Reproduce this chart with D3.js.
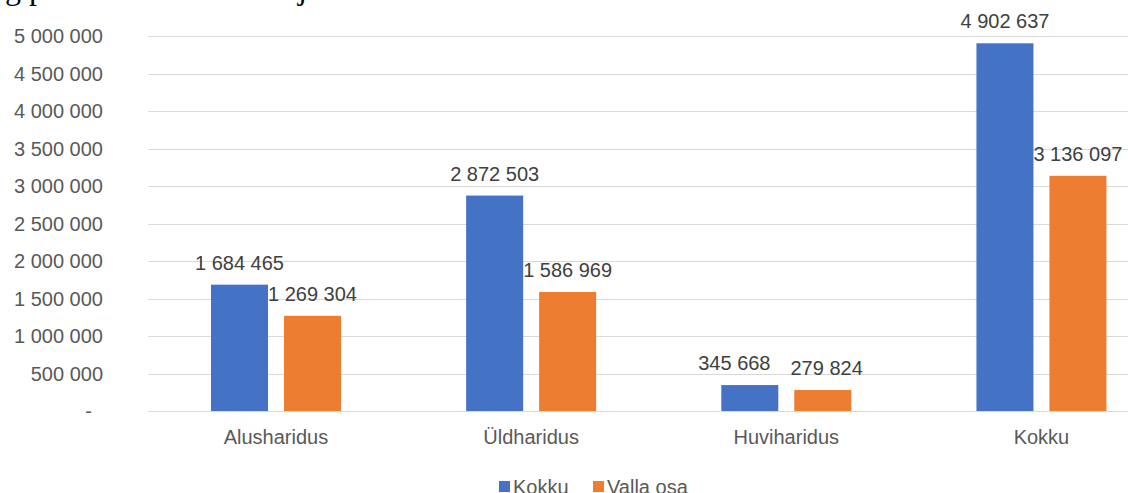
<!DOCTYPE html>
<html>
<head>
<meta charset="utf-8">
<script src="https://cdn.jsdelivr.net/npm/d3@7"></script>
<style>
  body { margin: 0; background: #fff; }
  svg { display: block; }
</style>
</head>
<body>
<div id="chart"></div>
<script>
// categories and series
const categories = ["Alusharidus", "Üldharidus", "Huviharidus", "Kokku"];
const seriesNames = ["Kokku", "Valla osa"];
const kokkuValues = [1684465, 2872503, 345668, 4902637];
const vallaOsaValues = [1269304, 1586969, 279824, 3136097];
const yTicks = [0, 500000, 1000000, 1500000, 2000000, 2500000, 3000000, 3500000, 4000000, 4500000, 5000000];
const colors = ["#4472C4", "#ED7D31"];

const width = 1128, height = 493;
const plot = { left: 148.4, right: 1169, top: 36, bottom: 411 };
const font = "'Liberation Sans', Arial, sans-serif";
const textColor = "#595959";

const svg = d3.select("#chart").append("svg")
  .attr("width", width)
  .attr("height", height);

// cut-off title fragment at the very top (only descenders visible in the original)
svg.append("text")
  .attr("x", 5).attr("y", -1)
  .attr("font-family", "'Liberation Serif', 'Times New Roman', serif")
  .attr("font-size", 32)
  .attr("fill", "#000")
  .text("g p");
svg.append("text")
  .attr("x", 298).attr("y", -1)
  .attr("font-family", "'Liberation Serif', 'Times New Roman', serif")
  .attr("font-size", 32)
  .attr("fill", "#000")
  .text("j");

const locale = d3.formatLocale({ thousands: " ", grouping: [3], decimal: ",", currency: ["", ""] });
const fmt = locale.format(",d");

const y = d3.scaleLinear().domain([0, 5000000]).range([plot.bottom, plot.top]);
const x0 = d3.scaleBand().domain(categories).range([plot.left, plot.right]);
const x1 = d3.scaleBand().domain(seriesNames)
  .range([62.6, 192.6])
  .paddingInner(0.219);

// gridlines
svg.append("g").selectAll("line")
  .data(yTicks)
  .enter().append("line")
  .attr("x1", plot.left).attr("x2", plot.right)
  .attr("y1", d => Math.round(y(d)) + 0.5)
  .attr("y2", d => Math.round(y(d)) + 0.5)
  .attr("stroke", "#d9d9d9")
  .attr("stroke-width", 1);

// y labels
svg.append("g").selectAll("text")
  .data(yTicks)
  .enter().append("text")
  .attr("x", d => d === 0 ? 92 : 103)
  .attr("y", d => y(d))
  .attr("dy", "0.35em")
  .attr("text-anchor", "end")
  .attr("font-family", font)
  .attr("font-size", 20)
  .attr("fill", textColor)
  .text(d => d === 0 ? "-" : fmt(d));

// bars
const rows = categories.map((c, i) => ({
  category: c,
  values: [
    { series: seriesNames[0], value: kokkuValues[i] },
    { series: seriesNames[1], value: vallaOsaValues[i] }
  ]
}));

const groups = svg.append("g").selectAll("g")
  .data(rows)
  .enter().append("g")
  .attr("transform", d => `translate(${x0(d.category)},0)`);

groups.selectAll("rect")
  .data(d => d.values)
  .enter().append("rect")
  .attr("x", d => x1(d.series))
  .attr("y", d => y(d.value))
  .attr("width", x1.bandwidth())
  .attr("height", d => y(0) - y(d.value))
  .attr("fill", (d, i) => colors[i]);

// data labels
groups.each(function () {
  const g = d3.select(this);
  const labels = g.selectAll("text.value-label")
    .data(d => d.values)
    .enter().append("text")
    .attr("class", "value-label")
    .attr("x", d => x1(d.series) + x1.bandwidth() / 2)
    .attr("y", d => y(d.value) - 15)
    .attr("text-anchor", "middle")
    .attr("font-family", font)
    .attr("font-size", 20)
    .attr("fill", "#404040")
    .text(d => fmt(d.value));

  // nudge the pair apart when they sit on the same line and collide
  const nodes = labels.nodes();
  const a = nodes[0].getBBox(), b = nodes[1].getBBox();
  const sameLine = Math.abs(a.y - b.y) < a.height;
  const gap = b.x - (a.x + a.width);
  if (sameLine && gap < 20) {
    const shift = 20 - gap;
    d3.select(nodes[0]).attr("x", +nodes[0].getAttribute("x") - shift * 0.8);
    d3.select(nodes[1]).attr("x", +nodes[1].getAttribute("x") + shift * 0.2);
  }
});

// category labels
svg.append("g").selectAll("text")
  .data(categories)
  .enter().append("text")
  .attr("x", d => x0(d) + x0.bandwidth() / 2)
  .attr("y", 444)
  .attr("text-anchor", "middle")
  .attr("font-family", font)
  .attr("font-size", 20)
  .attr("fill", textColor)
  .text(d => d);

// legend (cut off by the bottom edge, as in the original)
const legend = svg.append("g").attr("transform", "translate(499, 494)");
const legendX = [0, 94];
const items = legend.selectAll("g")
  .data(seriesNames)
  .enter().append("g")
  .attr("transform", (d, i) => `translate(${legendX[i]},0)`);
items.append("rect")
  .attr("x", 0).attr("y", -13)
  .attr("width", 11).attr("height", 11)
  .attr("fill", (d, i) => colors[i]);
items.append("text")
  .attr("x", 14).attr("y", 0)
  .attr("font-family", font)
  .attr("font-size", 20)
  .attr("fill", textColor)
  .text(d => d);
</script>
</body>
</html>
